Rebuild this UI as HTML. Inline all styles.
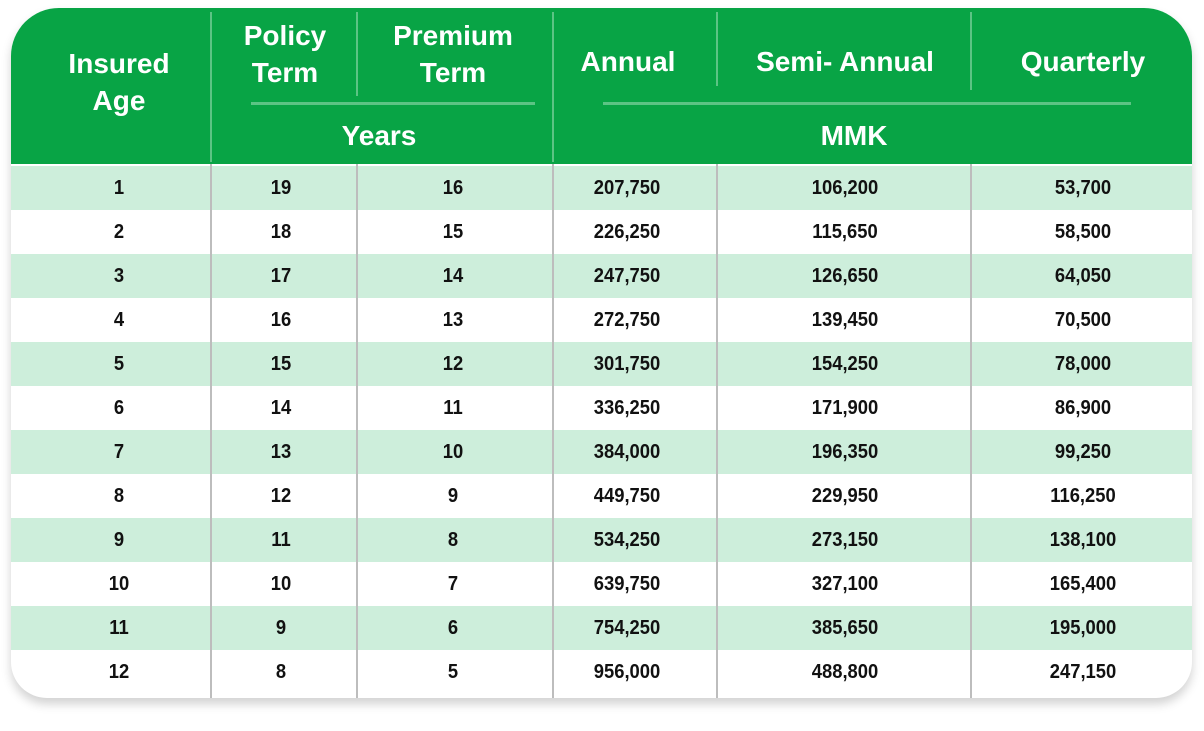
<!DOCTYPE html>
<html><head><meta charset="utf-8"><style>
body{margin:0;width:1204px;height:731px;background:#fff;position:relative;overflow:hidden;font-family:"Liberation Sans",sans-serif}
.card{position:absolute;left:11px;top:8px;width:1181px;height:690px;border-radius:48px 48px 36px 36px;overflow:hidden;background:#fff;box-shadow:0 6px 10px rgba(0,0,0,0.18)}
.hdr{position:absolute;left:0;top:0;width:1181px;height:156px;background:#08a445}
.h{position:absolute;color:#fff;font-weight:bold;font-size:28px;text-align:center;line-height:37px;transform:translateX(-50%);white-space:nowrap}
.vl{position:absolute;width:2px;background:#5cc484}
.hl{position:absolute;height:3px;background:#5cc484}
.row{position:absolute;left:0;width:1181px;height:44px}
.g{background:#cdeedb}
.c{position:absolute;top:0;font-weight:bold;font-size:20px;color:#111;transform:translateX(-50%) scaleX(0.92);line-height:44px;white-space:nowrap}
.a{left:108px}.b{left:270px}.d{left:442px}.e{left:616px}.f{left:834px}.k{left:1072px}
.bv{position:absolute;top:156px;height:534px;width:2px;background:#bdbdbd}
</style></head><body>
<div class="card">
<div class="hdr">
<div class="h" style="left:108px;top:37px">Insured<br>Age</div>
<div class="h" style="left:274px;top:9px">Policy<br>Term</div>
<div class="h" style="left:442px;top:9px">Premium<br>Term</div>
<div class="h" style="left:368px;top:109px">Years</div>
<div class="h" style="left:617px;top:35px">Annual</div>
<div class="h" style="left:834px;top:35px">Semi- Annual</div>
<div class="h" style="left:1072px;top:35px">Quarterly</div>
<div class="h" style="left:843px;top:109px">MMK</div>
<div class="vl" style="left:199px;top:4px;height:150px"></div>
<div class="vl" style="left:345px;top:4px;height:84px"></div>
<div class="vl" style="left:541px;top:4px;height:150px"></div>
<div class="vl" style="left:705px;top:4px;height:74px"></div>
<div class="vl" style="left:959px;top:4px;height:78px"></div>
<div class="hl" style="left:240px;top:94px;width:284px"></div>
<div class="hl" style="left:592px;top:94px;width:528px"></div>
</div>
<div class="row g" style="top:158px"><span class="c a">1</span><span class="c b">19</span><span class="c d">16</span><span class="c e">207,750</span><span class="c f">106,200</span><span class="c k">53,700</span></div>
<div class="row" style="top:202px"><span class="c a">2</span><span class="c b">18</span><span class="c d">15</span><span class="c e">226,250</span><span class="c f">115,650</span><span class="c k">58,500</span></div>
<div class="row g" style="top:246px"><span class="c a">3</span><span class="c b">17</span><span class="c d">14</span><span class="c e">247,750</span><span class="c f">126,650</span><span class="c k">64,050</span></div>
<div class="row" style="top:290px"><span class="c a">4</span><span class="c b">16</span><span class="c d">13</span><span class="c e">272,750</span><span class="c f">139,450</span><span class="c k">70,500</span></div>
<div class="row g" style="top:334px"><span class="c a">5</span><span class="c b">15</span><span class="c d">12</span><span class="c e">301,750</span><span class="c f">154,250</span><span class="c k">78,000</span></div>
<div class="row" style="top:378px"><span class="c a">6</span><span class="c b">14</span><span class="c d">11</span><span class="c e">336,250</span><span class="c f">171,900</span><span class="c k">86,900</span></div>
<div class="row g" style="top:422px"><span class="c a">7</span><span class="c b">13</span><span class="c d">10</span><span class="c e">384,000</span><span class="c f">196,350</span><span class="c k">99,250</span></div>
<div class="row" style="top:466px"><span class="c a">8</span><span class="c b">12</span><span class="c d">9</span><span class="c e">449,750</span><span class="c f">229,950</span><span class="c k">116,250</span></div>
<div class="row g" style="top:510px"><span class="c a">9</span><span class="c b">11</span><span class="c d">8</span><span class="c e">534,250</span><span class="c f">273,150</span><span class="c k">138,100</span></div>
<div class="row" style="top:554px"><span class="c a">10</span><span class="c b">10</span><span class="c d">7</span><span class="c e">639,750</span><span class="c f">327,100</span><span class="c k">165,400</span></div>
<div class="row g" style="top:598px"><span class="c a">11</span><span class="c b">9</span><span class="c d">6</span><span class="c e">754,250</span><span class="c f">385,650</span><span class="c k">195,000</span></div>
<div class="row" style="top:642px"><span class="c a">12</span><span class="c b">8</span><span class="c d">5</span><span class="c e">956,000</span><span class="c f">488,800</span><span class="c k">247,150</span></div>
<div class="bv" style="left:199px"></div>
<div class="bv" style="left:345px"></div>
<div class="bv" style="left:541px"></div>
<div class="bv" style="left:705px"></div>
<div class="bv" style="left:959px"></div>
</div>
</body></html>
